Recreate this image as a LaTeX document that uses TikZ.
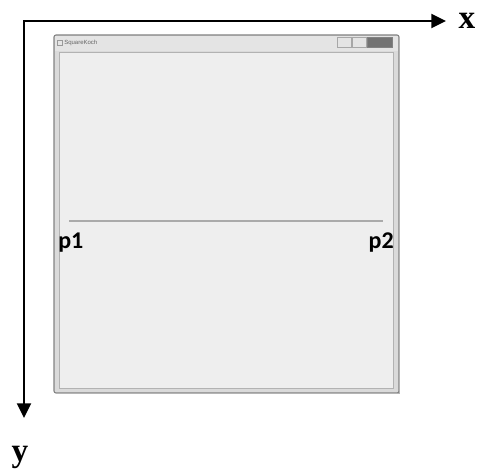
\documentclass[tikz,border=0pt]{standalone}
\usepackage{fontspec}
\setmainfont{Liberation Serif}
\newfontfamily\calfont{Carlito}
\newfontfamily\uifont{Liberation Sans}
\usetikzlibrary{arrows.meta}
\definecolor{clientbg}{RGB}{238,238,238}
\definecolor{framebg}{RGB}{218,218,218}
\definecolor{frameedge}{RGB}{130,130,130}
\definecolor{titlebg}{RGB}{228,228,228}
\definecolor{linegray}{RGB}{170,170,170}
\tikzset{
  axis/.style={line width=1.6pt,-{Triangle[length=11pt,width=10.5pt]}},
  axislabel/.style={font=\fontsize{25}{25}\selectfont\bfseries},
  plabel/.style={font=\calfont\fontsize{18}{18}\selectfont\bfseries, inner sep=0pt},
  btn/.style={draw=frameedge!70, line width=0.4pt, fill=titlebg},
}
\begin{document}
\begin{tikzpicture}[x=0.75pt,y=-0.75pt]
\useasboundingbox (0,0) rectangle (477,470);
% window frame
\path[fill=framebg, draw=frameedge, line width=0.8pt, rounded corners=1.5pt] (54,35) rectangle (399,393);
\path[fill=titlebg] (55,36) rectangle (398,51);
\path[draw=frameedge!60, line width=0.6pt] (399,37) -- (399,393) -- (56,393);
\path[fill=clientbg, draw=black!30, line width=0.6pt] (59,52) rectangle (393,388);
% title
\node[font=\uifont\fontsize{4.5}{4.5}\selectfont, text=black!60, anchor=west, inner sep=0pt] (title) at (64,43) {SquareKoch};
\node[draw=black!40, fill=black!10, minimum width=4pt, minimum height=4pt, inner sep=0pt, line width=0.3pt] (icon) at (59.5,43) {};
% caption buttons
\node[btn, minimum width=10.5pt, minimum height=7.5pt, inner sep=0pt, anchor=north west] (bmin) at (337,37) {};
\node[btn, minimum width=10.5pt, minimum height=7.5pt, inner sep=0pt, anchor=north west] (bmax) at (352,37) {};
\node[draw=frameedge, fill=black!55, minimum width=19pt, minimum height=7.5pt, inner sep=0pt, anchor=north west, line width=0.4pt] (bclose) at (367,37) {};
% line p1-p2
\coordinate (l1) at (69,221);
\coordinate (l2) at (383,221);
\draw[linegray, line width=1.5pt] (l1) -- (l2);
\node[plabel, anchor=west] (p1) at (58,243) {p1};
\node[plabel, anchor=east] (p2) at (394,243) {p2};
% axes
\coordinate (O) at (24,21);
\coordinate (xend) at (446,21);
\coordinate (yend) at (24,418);
\draw[axis, line cap=rect] (O) -- (xend);
\draw[axis] (O) -- (yend);
\node[axislabel] (xl) at (467,21) {x};
\node[axislabel] (yl) at (20,457) {y};
\end{tikzpicture}
\end{document}
